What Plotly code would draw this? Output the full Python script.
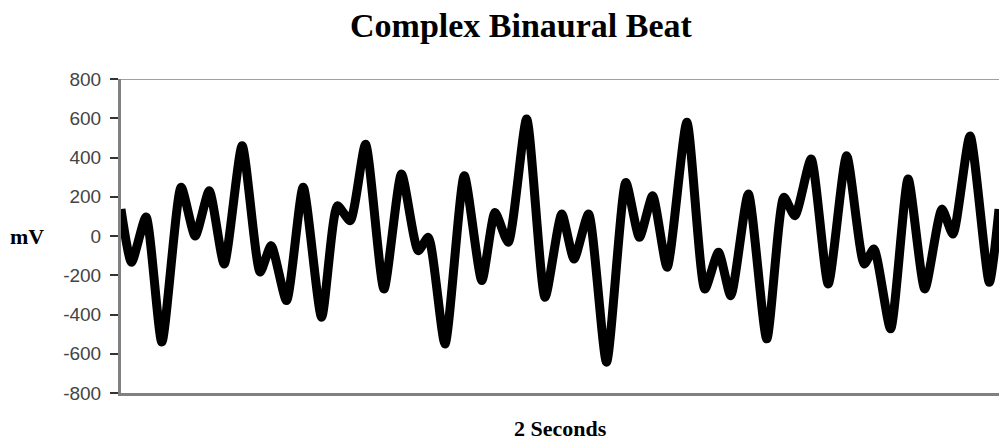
import plotly.graph_objects as go

# Time (seconds) of each turning point
time_s = [0.000, 0.024, 0.057, 0.093, 0.137, 0.169, 0.201, 0.235, 0.276, 0.317,
          0.342, 0.377, 0.415, 0.457, 0.493, 0.522, 0.557, 0.599, 0.639, 0.677,
          0.700, 0.738, 0.782, 0.822, 0.852, 0.882, 0.924, 0.966, 1.004, 1.032,
          1.065, 1.106, 1.150, 1.181, 1.211, 1.244, 1.289, 1.330, 1.361, 1.389,
          1.429, 1.471, 1.510, 1.535, 1.572, 1.611, 1.653, 1.693, 1.715, 1.753,
          1.793, 1.831, 1.870, 1.895, 1.934, 1.978, 2.000]
# Amplitude (mV)
amplitude_mv = [137, -134, 97, -540, 249, 0, 230, -143, 460, -184,
                -49, -329, 249, -414, 154, 78, 468, -270, 316, -75,
                -7, -550, 307, -227, 120, -32, 596, -312, 112, -117,
                112, -643, 273, -7, 205, -159, 579, -270, -83, -304,
                214, -524, 197, 103, 392, -244, 409, -143, -66, -473,
                290, -270, 137, 10, 510, -236, 137]

y_ticks = [-800, -600, -400, -200, 0, 200, 400, 600, 800]
y_tick_labels = ["-800", "-600", "-400", "-200", "0", "200", "400", "600", "800"]

serif = "Liberation Serif, Times New Roman, serif"
sans = "Liberation Sans, Arial, sans-serif"

fig = go.Figure()
fig.add_trace(go.Scatter(
    x=time_s, y=amplitude_mv, mode="lines",
    line=dict(color="black", width=9, shape="spline", smoothing=0.6),
    hoverinfo="skip", showlegend=False, cliponaxis=True,
))

fig.update_layout(
    width=999, height=440,
    margin=dict(l=121, r=0, t=79, b=47),
    paper_bgcolor="white", plot_bgcolor="white",
    title=dict(text="<b>Complex Binaural Beat</b>", x=0.5215, xref="container",
               xanchor="center", y=0.943, yref="container", yanchor="middle",
               font=dict(family=serif, size=34, color="black")),
    xaxis=dict(range=[0, 2], showticklabels=False, ticks="", showgrid=False,
               zeroline=False, showline=True, linecolor="#808080", linewidth=3),
    yaxis=dict(range=[-800, 800], tickvals=y_ticks, ticktext=y_tick_labels,
               ticks="outside", ticklen=8, tickwidth=2, tickcolor="#333333",
               ticklabelstandoff=5,
               tickfont=dict(family=sans, size=19, color="#444444"),
               showgrid=False, zeroline=False, showline=True,
               linecolor="#808080", linewidth=3),
    annotations=[
        dict(text="<b>mV</b>", xref="paper", yref="paper", x=-0.107, y=0.5,
             xanchor="center", yanchor="middle", showarrow=False,
             font=dict(family=serif, size=22, color="black")),
        dict(text="<b>2 Seconds</b>", xref="paper", yref="paper", x=0.5, y=0,
             xanchor="center", yanchor="middle", yshift=-35, showarrow=False,
             font=dict(family=serif, size=22, color="black")),
    ],
    shapes=[dict(type="line", xref="paper", yref="y", x0=0, x1=1, y0=800, y1=800,
                 line=dict(color="#a0a0a0", width=2), layer="below")],
)

fig.write_html(
    "out.html",
    config={"displayModeBar": False, "staticPlot": True},
    post_script="document.body.style.margin='0';document.body.style.overflow='hidden';",
)
